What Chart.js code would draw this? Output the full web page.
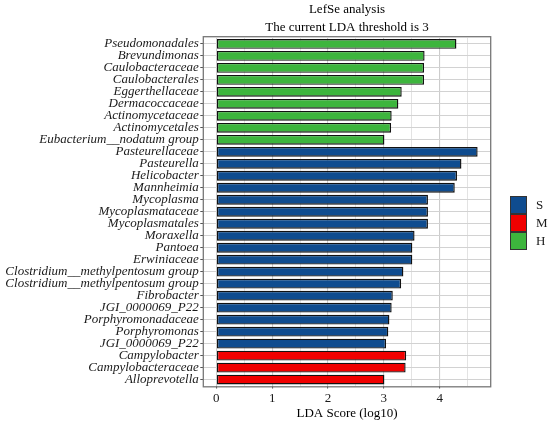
<!DOCTYPE html>
<html>
<head>
<meta charset="utf-8">
<script src="https://cdn.jsdelivr.net/npm/chart.js"></script>
<style>
  body { margin: 0; background: #fff; }
  #wrap { width: 550px; height: 424px; }
</style>
</head>
<body>
<div id="wrap"><canvas id="myChart" width="550" height="424"></canvas></div>
<script>
// LefSe results, top to bottom as they appear in the plot
const taxa = [
    "Pseudomonadales", "Brevundimonas", "Caulobacteraceae", "Caulobacterales",
    "Eggerthellaceae", "Dermacoccaceae", "Actinomycetaceae", "Actinomycetales",
    "Eubacterium__nodatum group",
    "Pasteurellaceae", "Pasteurella", "Helicobacter", "Mannheimia",
    "Mycoplasma", "Mycoplasmataceae", "Mycoplasmatales", "Moraxella",
    "Pantoea", "Erwiniaceae", "Clostridium__methylpentosum group",
    "Clostridium__methylpentosum group", "Fibrobacter", "JGI_0000069_P22",
    "Porphyromonadaceae", "Porphyromonas", "JGI_0000069_P22",
    "Campylobacter", "Campylobacteraceae", "Alloprevotella"
];
const ldaScores = [
    4.30, 3.73, 3.72, 3.72, 3.32, 3.26, 3.14, 3.13, 3.01,
    4.68, 4.39, 4.31, 4.27, 3.79, 3.79, 3.79, 3.55, 3.51, 3.51,
    3.35, 3.31, 3.16, 3.14, 3.10, 3.08, 3.04,
    3.40, 3.39, 3.01
];
const groupOf = [
    "H", "H", "H", "H", "H", "H", "H", "H", "H",
    "S", "S", "S", "S", "S", "S", "S", "S", "S", "S",
    "S", "S", "S", "S", "S", "S", "S",
    "M", "M", "M"
];
const groups = ["S", "M", "H"];
const groupColors = { S: "#0F4C8F", M: "#F00000", H: "#3DB53D" };
const xTicks = [0, 1, 2, 3, 4];

const serif = "'Liberation Serif', 'Times New Roman', serif";

const datasets = groups.map(g => ({
    label: g,
    data: ldaScores.map((v, i) => groupOf[i] === g ? v : null),
    backgroundColor: groupColors[g],
    borderColor: "#111",
    borderWidth: 1.4,
    borderSkipped: false,
    barPercentage: 0.82,
    categoryPercentage: 1.0
}));

// title, panel frame and legend drawn like the ggplot original
const decorations = {
    id: "decorations",
    afterDatasetsDraw(chart) {
        const { ctx, chartArea: a } = chart;
        const ext = 1.2;
        ctx.save();
        ctx.strokeStyle = "#777";
        ctx.lineWidth = 1.3;
        ctx.strokeRect(a.left, a.top - ext, a.right - a.left, a.bottom - a.top + 2 * ext);
        ctx.restore();
    },
    afterDraw(chart) {
        const { ctx, chartArea: a } = chart;
        const cx = (a.left + a.right) / 2;
        ctx.save();
        ctx.fillStyle = "#000";
        ctx.font = "13px " + serif;
        ctx.textAlign = "center";
        ctx.textBaseline = "middle";
        ctx.fillText("LefSe analysis", cx, 10);
        ctx.fillText("The current LDA threshold is 3", cx, 27.5);

        // legend
        const bx = 510, by = 196, bw = 17, bh = 18;
        chart.data.datasets.forEach((ds, i) => {
            const y = by + i * bh;
            ctx.fillStyle = ds.backgroundColor;
            ctx.fillRect(bx, y, bw, bh);
            ctx.strokeStyle = "#333";
            ctx.lineWidth = 1;
            ctx.strokeRect(bx + 0.5, y + 0.5, bw - 1, bh - 1);
            ctx.fillStyle = "#1a1a1a";
            ctx.textAlign = "left";
            ctx.fillText(ds.label, bx + bw + 9, y + bh / 2 + 0.5);
        });
        ctx.restore();
    }
};

const ctx = document.getElementById("myChart").getContext("2d");
const myChart = new Chart(ctx, {
    type: "bar",
    data: { labels: taxa, datasets: datasets },
    options: {
        indexAxis: "y",
        responsive: false,
        animation: false,
        layout: { padding: { top: 37.9, right: 59.3, bottom: 0, left: 0 } },
        plugins: {
            legend: { display: false },
            title: { display: false },
            tooltip: { enabled: false }
        },
        scales: {
            x: {
                type: "linear",
                stacked: true,
                min: -0.234,
                max: 4.914,
                afterFit: s => { s.height = 38.4; },
                ticks: {
                    stepSize: 0.5,
                    includeBounds: false,
                    autoSkip: false,
                    maxRotation: 0,
                    padding: 2,
                    color: "#1a1a1a",
                    font: { family: serif, size: 13 },
                    callback: v => xTicks.includes(v) ? String(v) : ""
                },
                grid: {
                    color: c => Number.isInteger(c.tick && c.tick.value) ? "#cccccc" : "#dcdcdc",
                    lineWidth: c => Number.isInteger(c.tick && c.tick.value) ? 1.1 : 0.8,
                    tickColor: c => Number.isInteger(c.tick && c.tick.value) ? "#555" : "rgba(0,0,0,0)",
                    tickLength: 3
                },
                border: { display: false },
                title: {
                    display: true,
                    text: "LDA Score (log10)",
                    color: "#000",
                    font: { family: serif, size: 13 },
                    padding: { top: 2, bottom: 3 }
                }
            },
            y: {
                stacked: true,
                afterFit: s => { s.width = 203.3; },
                ticks: {
                    autoSkip: false,
                    padding: 1.5,
                    color: "#1a1a1a",
                    font: { family: serif, size: 13, style: "italic" }
                },
                grid: {
                    offset: false,
                    color: "#d2d2d2",
                    lineWidth: 1,
                    tickColor: "#555",
                    tickLength: 3
                },
                border: { display: false }
            }
        }
    },
    plugins: [decorations]
});
</script>
</body>
</html>
